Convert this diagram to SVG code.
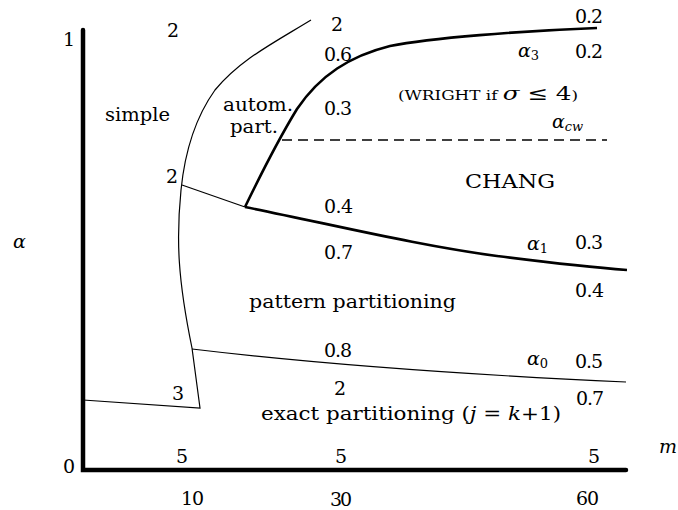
<svg xmlns="http://www.w3.org/2000/svg" width="678" height="510" viewBox="0 0 678 510">
<style>
.t{font-family:"DejaVu Serif","Liberation Serif","Noto Serif",serif;font-size:19px;fill:#000}
.i{font-style:italic}
.s{font-size:13px}
.thin{stroke:#000;stroke-width:1.2;fill:none}
.thick{stroke:#000;stroke-width:2.6;fill:none;stroke-linejoin:round}
.axis{stroke:#000;stroke-width:4.5;stroke-linecap:round;fill:none}
.dash{stroke:#000;stroke-width:1.3;stroke-dasharray:10,6;fill:none}
</style>
<rect width="678" height="510" fill="#fff"/>
<g id="axes">
<path class="axis" d="M83,30 L83,470 L626,470"/>
</g>
<g id="connectors">
<path id="simple-boundary" class="thin" d="M311,20 C270,45 240,60 215,90 C195,118 185,150 181,190 C176,240 178,280 192,348 L200,408 L83,400"/>
<path id="auto-lower" class="thin" d="M182,185 L245,207"/>
<path id="alpha0" class="thin" d="M192,349 C300,362 450,374 626,382"/>
<path id="alpha1" class="thick" d="M245,207 C330,224 420,246 497,256 C560,264 600,268 627,270"/>
<path id="alpha3" class="thick" d="M245,207 C260,176 275,145 297,109 C320,75 350,56 390,46 C430,38 520,31 597,28"/>
<path id="alphacw" class="dash" d="M282,140 L607,140"/>
</g>
<g id="axis-labels">
<text class="t" x="63" y="46">1</text>
<text class="t" x="63" y="473">0</text>
<text class="t i" x="13" y="248">α</text>
<text class="t i" x="659" y="453">m</text>
<text class="t" x="181" y="505" textLength="23" lengthAdjust="spacing">10</text>
<text class="t" x="330" y="506" textLength="22" lengthAdjust="spacing">30</text>
<text class="t" x="576" y="505" textLength="23" lengthAdjust="spacing">60</text>
<text class="t" x="176" y="463">5</text>
<text class="t" x="335" y="463">5</text>
<text class="t" x="588" y="463">5</text>
</g>
<g id="region-simple">
<text class="t" x="105" y="121" textLength="65" lengthAdjust="spacingAndGlyphs">simple</text>
<text class="t" x="167" y="37">2</text>
<text class="t" x="331" y="31">2</text>
<text class="t" x="166" y="183">2</text>
<text class="t" x="172" y="400">3</text>
</g>
<g id="region-autom">
<text class="t" x="223" y="111" textLength="70" lengthAdjust="spacingAndGlyphs">autom.</text>
<text class="t" x="230" y="133" textLength="48" lengthAdjust="spacingAndGlyphs">part.</text>
<text class="t" x="324" y="61" textLength="28" lengthAdjust="spacing">0.6</text>
<text class="t" x="324" y="115" textLength="28" lengthAdjust="spacing">0.3</text>
</g>
<g id="region-chang">
<text class="t" x="575" y="23" textLength="28" lengthAdjust="spacing">0.2</text>
<text class="t" x="575" y="58" textLength="28" lengthAdjust="spacing">0.2</text>
<text class="t i" x="518" y="57">α<tspan class="s" dy="3" font-style="normal">3</tspan></text>
<text class="t" x="398" y="100" textLength="180" lengthAdjust="spacingAndGlyphs"><tspan class="s">(WRIGHT if </tspan><tspan class="i">σ</tspan> ≤ 4<tspan class="s">)</tspan></text>
<text class="t i" x="552" y="128">α<tspan class="s" dy="3">cw</tspan></text>
<text class="t" x="465" y="188" textLength="90" lengthAdjust="spacingAndGlyphs">CHANG</text>
<text class="t" x="324" y="213" textLength="29" lengthAdjust="spacing">0.4</text>
</g>
<g id="region-pattern">
<text class="t" x="324" y="259" textLength="29" lengthAdjust="spacing">0.7</text>
<text class="t i" x="527" y="250">α<tspan class="s" dy="3" font-style="normal">1</tspan></text>
<text class="t" x="575" y="249" textLength="28" lengthAdjust="spacing">0.3</text>
<text class="t" x="575" y="297" textLength="29" lengthAdjust="spacing">0.4</text>
<text class="t" x="249" y="308" textLength="207" lengthAdjust="spacingAndGlyphs">pattern partitioning</text>
<text class="t" x="324" y="357" textLength="28" lengthAdjust="spacing">0.8</text>
</g>
<g id="region-exact">
<text class="t i" x="527" y="365">α<tspan class="s" dy="3" font-style="normal">0</tspan></text>
<text class="t" x="575" y="368" textLength="28" lengthAdjust="spacing">0.5</text>
<text class="t" x="334" y="395">2</text>
<text class="t" x="576" y="405" textLength="28" lengthAdjust="spacing">0.7</text>
<text class="t" x="261" y="420" textLength="300" lengthAdjust="spacingAndGlyphs">exact partitioning (<tspan class="i">j</tspan> = <tspan class="i">k</tspan>+1)</text>
</g>
</svg>
